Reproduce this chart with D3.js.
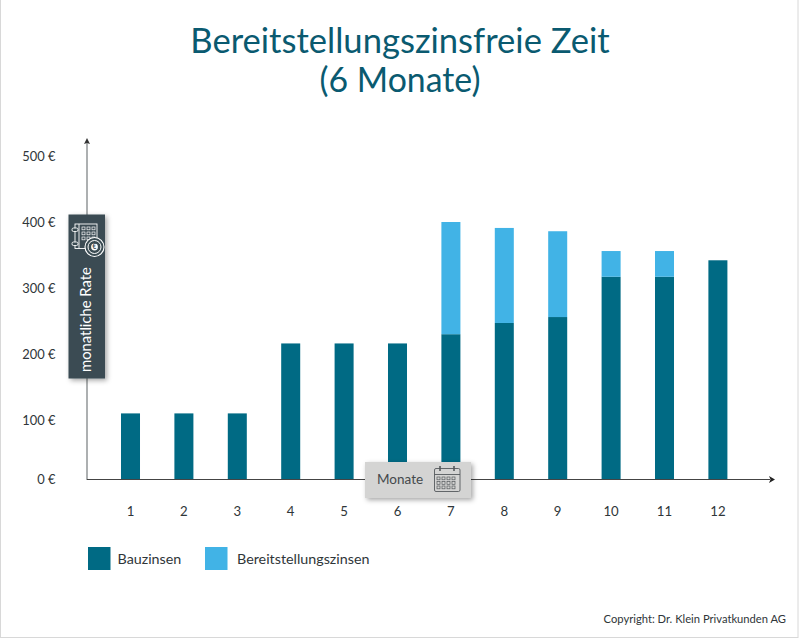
<!DOCTYPE html>
<html>
<head>
<meta charset="utf-8">
<script src="https://cdn.jsdelivr.net/npm/d3@7"></script>
<style>
  html, body { margin: 0; padding: 0; background: #fff; }
  svg { display: block; }
</style>
</head>
<body>
<svg id="chart" width="800" height="639"></svg>
<script>
const months = ["1","2","3","4","5","6","7","8","9","10","11","12"];
const bauzinsen = [110,110,110,216,216,216,230,247,256,317,317,342];
const bereitstellung = [0,0,0,0,0,0,170,144,130,39,39,0];
const yTicks = [0,100,200,300,400,500];
const yTickLabels = ["0 €","100 €","200 €","300 €","400 €","500 €"];
const titleLines = ["Bereitstellungszinsfreie Zeit","(6 Monate)"];
const seriesNames = ["Bauzinsen","Bereitstellungszinsen"];

const colorDark = "#006a84", colorLight = "#41b3e6", textCol = "#2f3639", titleCol = "#0a5a70";
const font = "Lato, sans-serif";
const svg = d3.select("#chart");

// page frame
svg.append("rect").attr("x",0.5).attr("y",-2).attr("width",797.5).attr("height",639.5)
  .attr("fill","none").attr("stroke","#d8d8d8");

const defs = svg.append("defs");
const shadow = defs.append("filter").attr("id","shadow")
  .attr("x","-20%").attr("y","-20%").attr("width","150%").attr("height","150%");
shadow.append("feDropShadow").attr("dx",2).attr("dy",2).attr("stdDeviation",2.5)
  .attr("flood-color","#000").attr("flood-opacity",0.35);

svg.append("g").selectAll("text").data(titleLines).join("text")
  .attr("x",400).attr("y",(d,i)=>53+i*39)
  .attr("text-anchor","middle")
  .attr("font-family",font)
  .attr("font-size",(d,i)=>[34.6,33.8][i])
  .attr("fill",titleCol)
  .text(d=>d);

// the printed tick labels are not evenly spaced at the bottom, hence the extra stop
const yScale = d3.scaleLinear().domain([0,100,500]).range([479,420,156]);
const xScale = d3.scaleBand(months,[103.8,744.6]).paddingInner(0.644).paddingOuter(0.322);

const stacked = d3.stack().keys([0,1]).value((d,k)=>d[k])(months.map((m,i)=>[bauzinsen[i],bereitstellung[i]]));

svg.append("g").selectAll("g").data(stacked).join("g")
  .attr("fill",(d,i)=>[colorDark,colorLight][i])
  .selectAll("rect").data(d=>d).join("rect")
  .attr("x",(d,i)=>xScale(months[i]))
  .attr("y",d=>yScale(d[1]))
  .attr("width",xScale.bandwidth())
  .attr("height",d=>yScale(d[0])-yScale(d[1]));

// y tick labels
const yAxis = d3.axisLeft(yScale).tickValues(yTicks).tickSize(0).tickPadding(0)
  .tickFormat((d,i)=>yTickLabels[i]);
svg.append("g").attr("transform","translate(55.5,0)").call(yAxis)
  .call(g=>g.select(".domain").remove())
  .call(g=>g.selectAll("text").attr("font-family",font).attr("font-size",12.9).attr("fill",textCol));

// x tick labels
const xAxis = d3.axisBottom(xScale).tickSize(0).tickPadding(0);
svg.append("g").attr("transform","translate(0,506.5)").call(xAxis)
  .call(g=>g.select(".domain").remove())
  .call(g=>g.selectAll("text").attr("font-family",font).attr("font-size",13.2).attr("fill",textCol));

// axis lines with arrow heads
svg.append("line").attr("x1",87).attr("x2",87).attr("y1",480).attr("y2",142).attr("stroke","#8a8f90").attr("stroke-width",1.4);
svg.append("path").attr("d","M87,138 L90,144 L87,143 L84,144 Z").attr("fill","#333");
svg.append("line").attr("x1",87).attr("x2",770).attr("y1",479.5).attr("y2",479.5).attr("stroke","#444").attr("stroke-width",1.1);
svg.append("path").attr("d","M775,479.5 L769,476 L770.5,479.5 L769,483 Z").attr("fill","#222");

// y axis badge
const badge = svg.append("g");
badge.append("rect").attr("x",68.5).attr("y",214.5).attr("width",36.5).attr("height",164)
  .attr("fill","#3a4b52").attr("filter","url(#shadow)");
badge.append("text").attr("transform","translate(91,372) rotate(-90)")
  .attr("font-family",font).attr("font-size",14.8).attr("fill","#fff").text("monatliche Rate");
const ic = badge.append("g").attr("fill","none").attr("stroke","#fff").attr("stroke-width",0.9);
ic.append("rect").attr("x",75).attr("y",224).attr("width",22).attr("height",24.5);
ic.append("line").attr("x1",79).attr("x2",79).attr("y1",224).attr("y2",248.5);
ic.append("rect").attr("x",72).attr("y",228).attr("width",6).attr("height",3.5).attr("rx",1.5).attr("fill","#3a4b52");
ic.append("rect").attr("x",72).attr("y",242).attr("width",6).attr("height",3.5).attr("rx",1.5).attr("fill","#3a4b52");
const iconCells = d3.cross([82,87,92],[227,232,237]);
ic.selectAll("rect.cell").data(iconCells).join("rect").attr("class","cell")
  .attr("x",d=>d[0]).attr("y",d=>d[1]).attr("width",3).attr("height",2.8).attr("stroke-width",0.7);
ic.append("circle").attr("cx",94.5).attr("cy",247).attr("r",9.5).attr("fill","#3a4b52").attr("stroke-width",1.1);
ic.append("circle").attr("cx",94.5).attr("cy",247).attr("r",6.5).attr("stroke-width",1);
ic.append("circle").attr("cx",94.5).attr("cy",247).attr("r",3.4).attr("fill","#fff").attr("stroke","none");
badge.append("text").attr("x",94.5).attr("y",249.3).attr("text-anchor","middle")
  .attr("font-family",font).attr("font-size",6.5).attr("font-weight",700).attr("fill","#3a4b52").text("€");

// x axis badge
const badge2 = svg.append("g");
badge2.append("rect").attr("x",365).attr("y",462).attr("width",106).attr("height",36)
  .attr("fill","#d4d4d3").attr("filter","url(#shadow)");
badge2.append("text").attr("x",377).attr("y",484)
  .attr("font-family",font).attr("font-size",13.5).attr("fill","#44494c").text("Monate");
const ic2 = badge2.append("g").attr("fill","none").attr("stroke","#55595c").attr("stroke-width",0.9);
ic2.append("rect").attr("x",434.5).attr("y",468.5).attr("width",25.5).attr("height",23).attr("rx",1.5);
ic2.append("line").attr("x1",434.5).attr("x2",460).attr("y1",474.5).attr("y2",474.5);
ic2.selectAll("line.pin").data([440,454]).join("line").attr("class","pin")
  .attr("x1",d=>d).attr("x2",d=>d).attr("y1",466).attr("y2",471).attr("stroke-width",1.6);
ic2.selectAll("rect.cell").data(d3.cross([437,442,447,452],[477,481.5,486])).join("rect").attr("class","cell")
  .attr("x",d=>d[0]).attr("y",d=>d[1]).attr("width",3).attr("height",2.8).attr("stroke-width",0.7);

// legend
const legendX = [88,205];
const legend = svg.append("g").selectAll("g").data(seriesNames).join("g")
  .attr("transform",(d,i)=>`translate(${legendX[i]},547)`);
legend.append("rect").attr("width",22.5).attr("height",23).attr("fill",(d,i)=>[colorDark,colorLight][i]);
legend.append("text").attr("x",(d,i)=>[29.5,32][i]).attr("y",17)
  .attr("font-family",font).attr("font-size",14.3).attr("fill",textCol).text(d=>d);

svg.append("text").attr("x",786).attr("y",623).attr("text-anchor","end")
  .attr("font-family",font).attr("font-size",11.2).attr("fill",textCol).text("Copyright: Dr. Klein Privatkunden AG");
</script>
</body>
</html>
